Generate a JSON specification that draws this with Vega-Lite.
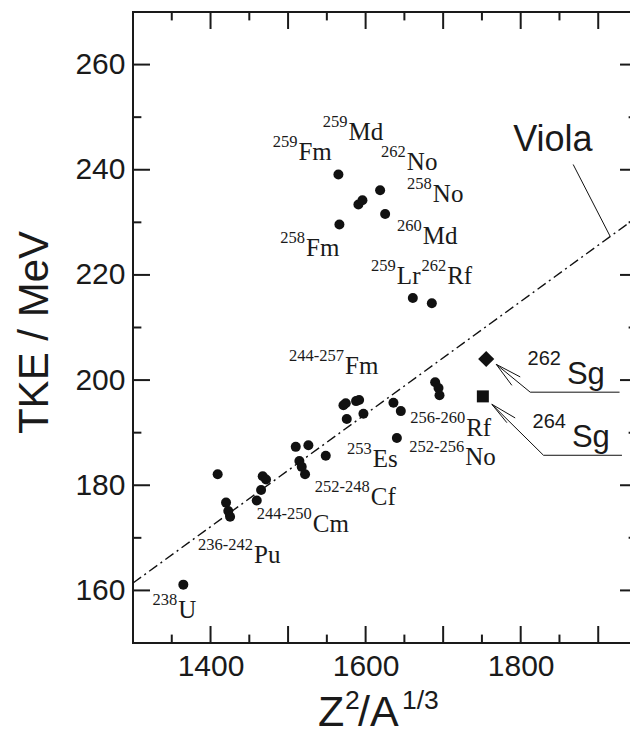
{
  "$schema": "https://vega.github.io/schema/vega-lite/v6.json",
  "width": 504,
  "height": 631,
  "autosize": {"type": "none"},
  "padding": {"left": 133, "top": 12, "right": -7, "bottom": 86},
  "background": "white",
  "config": {
    "view": {"stroke": "#1a1a1a", "strokeWidth": 2},
    "axis": {
      "grid": false,
      "domain": false,
      "ticks": false,
      "tickSize": 0,
      "labelColor": "#1a1a1a",
      "labelFont": "Liberation Sans",
      "labelFontSize": 30,
      "titleFont": "Liberation Sans",
      "titleColor": "#1a1a1a",
      "titleFontWeight": "normal",
      "labelFlush": false,
      "labelOverlap": false
    }
  },
  "datasets": {
    "points": [
      {"x": 1564.9, "y": 239.1}, {"x": 1590.7, "y": 233.4}, {"x": 1595.9, "y": 234.2},
      {"x": 1618.7, "y": 236.1}, {"x": 1625.2, "y": 231.6}, {"x": 1566.2, "y": 229.6},
      {"x": 1660.9, "y": 215.6}, {"x": 1685.4, "y": 214.6},
      {"x": 1364.9, "y": 161.1}, {"x": 1409.2, "y": 182.1}, {"x": 1420.0, "y": 176.7},
      {"x": 1422.9, "y": 175.1}, {"x": 1425.2, "y": 174.0}, {"x": 1459.6, "y": 177.1},
      {"x": 1465.2, "y": 179.1}, {"x": 1467.3, "y": 181.7}, {"x": 1471.6, "y": 181.1},
      {"x": 1509.9, "y": 187.3}, {"x": 1526.2, "y": 187.6}, {"x": 1514.6, "y": 184.6},
      {"x": 1517.6, "y": 183.5}, {"x": 1521.9, "y": 182.1}, {"x": 1548.6, "y": 185.6},
      {"x": 1571.4, "y": 195.2}, {"x": 1574.4, "y": 195.6}, {"x": 1575.7, "y": 192.6},
      {"x": 1587.7, "y": 196.0}, {"x": 1591.6, "y": 196.2}, {"x": 1597.2, "y": 193.6},
      {"x": 1635.9, "y": 195.7}, {"x": 1645.4, "y": 194.1}, {"x": 1640.3, "y": 189.0},
      {"x": 1689.7, "y": 199.6}, {"x": 1694.0, "y": 198.5}, {"x": 1695.3, "y": 197.1}
    ],
    "sg": [
      {"iso": "262Sg", "x": 1755.5, "y": 204.0},
      {"iso": "264Sg", "x": 1751.2, "y": 196.9}
    ],
    "viola": [
      {"x": 1300, "y": 161.4},
      {"x": 1950, "y": 231.0}
    ],
    "leaders": [
      {"x": 1867.7, "y": 241.0, "x2": 1915.5, "y2": 227.3},
      {"x": 1768.4, "y": 203.0, "x2": 1812.3, "y2": 197.7},
      {"x": 1812.3, "y": 197.7, "x2": 1927.5, "y2": 197.7},
      {"x": 1768.4, "y": 203.0, "x2": 1799.4, "y2": 200.6},
      {"x": 1768.4, "y": 203.0, "x2": 1788.6, "y2": 199.0},
      {"x": 1762.8, "y": 195.4, "x2": 1829.4, "y2": 185.7},
      {"x": 1829.4, "y": 185.7, "x2": 1930.6, "y2": 185.7},
      {"x": 1762.8, "y": 195.4, "x2": 1792.9, "y2": 192.8},
      {"x": 1762.8, "y": 195.4, "x2": 1782.2, "y2": 191.9}
    ],
    "xticks": [
      {"v": 1350, "kind": "minor"}, {"v": 1400, "kind": "major"}, {"v": 1450, "kind": "minor"},
      {"v": 1500, "kind": "major"}, {"v": 1550, "kind": "minor"}, {"v": 1600, "kind": "major"},
      {"v": 1650, "kind": "minor"}, {"v": 1700, "kind": "major"}, {"v": 1750, "kind": "minor"},
      {"v": 1800, "kind": "major"}, {"v": 1850, "kind": "minor"}, {"v": 1900, "kind": "major"}
    ],
    "yticks": [
      {"v": 160, "kind": "major"}, {"v": 170, "kind": "minor"}, {"v": 180, "kind": "major"},
      {"v": 190, "kind": "minor"}, {"v": 200, "kind": "major"}, {"v": 210, "kind": "minor"},
      {"v": 220, "kind": "major"}, {"v": 230, "kind": "minor"}, {"v": 240, "kind": "major"},
      {"v": 250, "kind": "minor"}, {"v": 260, "kind": "major"}
    ],
    "isotopes": [
      {"mass": "259", "el": "Fm", "x": 1513.3, "y": 241.9},
      {"mass": "259", "el": "Md", "x": 1577.8, "y": 245.6},
      {"mass": "262", "el": "No", "x": 1653.2, "y": 239.9},
      {"mass": "258", "el": "No", "x": 1686.7, "y": 233.8},
      {"mass": "260", "el": "Md", "x": 1673.8, "y": 225.8},
      {"mass": "258", "el": "Fm", "x": 1523.2, "y": 223.6},
      {"mass": "259", "el": "Lr", "x": 1640.3, "y": 218.2},
      {"mass": "262", "el": "Rf", "x": 1705.2, "y": 218.2},
      {"mass": "244-257", "el": "Fm", "x": 1573.5, "y": 201.1},
      {"mass": "256-260", "el": "Rf", "x": 1729.7, "y": 189.3},
      {"mass": "253", "el": "Es", "x": 1609.3, "y": 183.5},
      {"mass": "252-256", "el": "No", "x": 1728.4, "y": 183.8},
      {"mass": "252-248", "el": "Cf", "x": 1606.7, "y": 176.2},
      {"mass": "244-250", "el": "Cm", "x": 1531.9, "y": 171.1},
      {"mass": "236-242", "el": "Pu", "x": 1456.1, "y": 165.3},
      {"mass": "238", "el": "U", "x": 1358.5, "y": 154.8}
    ],
    "sglabels": [
      {"mass": "262", "el": "Sg", "x": 1859.6, "y": 199.2},
      {"mass": "264", "el": "Sg", "x": 1866.1, "y": 187.2}
    ],
    "violalabel": [
      {"t": "Viola", "x": 1790.3, "y": 243.5}
    ],
    "xtitle_big": [
      {"t": "Z", "x": 1538.7, "y": 134.2},
      {"t": "/A", "x": 1590.3, "y": 134.2}
    ],
    "xtitle_small": [
      {"t": "2", "x": 1573.5, "y": 137.5},
      {"t": "1/3", "x": 1646.9, "y": 137.5}
    ]
  },
  "resolve": {"axis": {"x": "independent", "y": "independent"}},
  "layer": [
    {
      "data": {"name": "xticks"},
      "transform": [{"filter": "datum.kind === 'major'"}],
      "mark": {"type": "rule", "color": "#1a1a1a", "strokeWidth": 2},
      "encoding": {
        "x": {
          "field": "v", "type": "quantitative",
          "scale": {"domain": [1300, 1950], "nice": false, "zero": false},
          "axis": {
            "orient": "bottom",
            "values": [1400, 1600, 1800],
            "format": "d",
            "labelFontSize": 30,
            "labelPadding": 8,
            "title": null
          }
        },
        "y": {
          "datum": 150, "type": "quantitative",
          "scale": {"domain": [150, 270], "nice": false, "zero": false},
          "axis": {
            "orient": "left",
            "values": [160, 180, 200, 220, 240, 260],
            "format": "d",
            "labelFontSize": 30,
            "labelPadding": 8,
            "title": "TKE / MeV",
            "titleFontSize": 42,
            "titleX": -86,
            "titleY": 320,
            "titleBaseline": "alphabetic",
            "titleAlign": "center",
            "titleAngle": -90
          }
        },
        "y2": {"datum": 153.23}
      }
    },
    {
      "data": {"name": "xticks"},
      "transform": [{"filter": "datum.kind === 'minor'"}],
      "mark": {"type": "rule", "color": "#1a1a1a", "strokeWidth": 2},
      "encoding": {
        "x": {"field": "v", "type": "quantitative", "scale": {"domain": [1300, 1950], "nice": false, "zero": false}, "axis": null},
        "y": {"datum": 150, "type": "quantitative", "scale": {"domain": [150, 270], "nice": false, "zero": false}, "axis": null},
        "y2": {"datum": 151.6}
      }
    },
    {
      "data": {"name": "xticks"},
      "transform": [{"filter": "datum.kind === 'major'"}],
      "mark": {"type": "rule", "color": "#1a1a1a", "strokeWidth": 2},
      "encoding": {
        "x": {"field": "v", "type": "quantitative", "scale": {"domain": [1300, 1950], "nice": false, "zero": false}, "axis": null},
        "y": {"datum": 270, "type": "quantitative", "scale": {"domain": [150, 270], "nice": false, "zero": false}, "axis": null},
        "y2": {"datum": 266.77}
      }
    },
    {
      "data": {"name": "xticks"},
      "transform": [{"filter": "datum.kind === 'minor'"}],
      "mark": {"type": "rule", "color": "#1a1a1a", "strokeWidth": 2},
      "encoding": {
        "x": {"field": "v", "type": "quantitative", "scale": {"domain": [1300, 1950], "nice": false, "zero": false}, "axis": null},
        "y": {"datum": 270, "type": "quantitative", "scale": {"domain": [150, 270], "nice": false, "zero": false}, "axis": null},
        "y2": {"datum": 268.4}
      }
    },
    {
      "data": {"name": "yticks"},
      "transform": [{"filter": "datum.kind === 'major'"}],
      "mark": {"type": "rule", "color": "#1a1a1a", "strokeWidth": 2},
      "encoding": {
        "x": {"datum": 1300, "type": "quantitative", "scale": {"domain": [1300, 1950], "nice": false, "zero": false}, "axis": null},
        "x2": {"datum": 1321.9},
        "y": {"field": "v", "type": "quantitative", "scale": {"domain": [150, 270], "nice": false, "zero": false}, "axis": null}
      }
    },
    {
      "data": {"name": "yticks"},
      "transform": [{"filter": "datum.kind === 'minor'"}],
      "mark": {"type": "rule", "color": "#1a1a1a", "strokeWidth": 2},
      "encoding": {
        "x": {"datum": 1300, "type": "quantitative", "scale": {"domain": [1300, 1950], "nice": false, "zero": false}, "axis": null},
        "x2": {"datum": 1310.8},
        "y": {"field": "v", "type": "quantitative", "scale": {"domain": [150, 270], "nice": false, "zero": false}, "axis": null}
      }
    },
    {
      "data": {"name": "yticks"},
      "transform": [{"filter": "datum.kind === 'major'"}],
      "mark": {"type": "rule", "color": "#1a1a1a", "strokeWidth": 2},
      "encoding": {
        "x": {"datum": 1950, "type": "quantitative", "scale": {"domain": [1300, 1950], "nice": false, "zero": false}, "axis": null},
        "x2": {"datum": 1928.1},
        "y": {"field": "v", "type": "quantitative", "scale": {"domain": [150, 270], "nice": false, "zero": false}, "axis": null}
      }
    },
    {
      "data": {"name": "yticks"},
      "transform": [{"filter": "datum.kind === 'minor'"}],
      "mark": {"type": "rule", "color": "#1a1a1a", "strokeWidth": 2},
      "encoding": {
        "x": {"datum": 1950, "type": "quantitative", "scale": {"domain": [1300, 1950], "nice": false, "zero": false}, "axis": null},
        "x2": {"datum": 1939.2},
        "y": {"field": "v", "type": "quantitative", "scale": {"domain": [150, 270], "nice": false, "zero": false}, "axis": null}
      }
    },
    {
      "data": {"name": "points"},
      "mark": {"type": "point", "shape": "circle", "filled": true, "size": 100, "color": "#111111", "opacity": 1},
      "encoding": {
        "x": {"field": "x", "type": "quantitative", "scale": {"domain": [1300, 1950], "nice": false, "zero": false}, "axis": null},
        "y": {"field": "y", "type": "quantitative", "scale": {"domain": [150, 270], "nice": false, "zero": false}, "axis": null}
      }
    },
    {
      "data": {"name": "viola"},
      "mark": {"type": "line", "color": "#111111", "strokeWidth": 1.4, "strokeDash": [10, 4, 2, 4], "clip": true},
      "encoding": {
        "x": {"field": "x", "type": "quantitative", "scale": {"domain": [1300, 1950], "nice": false, "zero": false}, "axis": null},
        "y": {"field": "y", "type": "quantitative", "scale": {"domain": [150, 270], "nice": false, "zero": false}, "axis": null}
      }
    },
    {
      "data": {"name": "leaders"},
      "mark": {"type": "rule", "color": "#111111", "strokeWidth": 1},
      "encoding": {
        "x": {"field": "x", "type": "quantitative", "scale": {"domain": [1300, 1950], "nice": false, "zero": false}, "axis": null},
        "y": {"field": "y", "type": "quantitative", "scale": {"domain": [150, 270], "nice": false, "zero": false}, "axis": null},
        "x2": {"field": "x2"},
        "y2": {"field": "y2"}
      }
    },
    {
      "data": {"name": "sg"},
      "transform": [{"filter": "datum.iso === '262Sg'"}],
      "mark": {"type": "point", "shape": "diamond", "filled": true, "size": 260, "color": "#111111", "opacity": 1},
      "encoding": {
        "x": {"field": "x", "type": "quantitative", "scale": {"domain": [1300, 1950], "nice": false, "zero": false}, "axis": null},
        "y": {"field": "y", "type": "quantitative", "scale": {"domain": [150, 270], "nice": false, "zero": false}, "axis": null}
      }
    },
    {
      "data": {"name": "sg"},
      "transform": [{"filter": "datum.iso === '264Sg'"}],
      "mark": {"type": "point", "shape": "square", "filled": true, "size": 144, "color": "#111111", "opacity": 1},
      "encoding": {
        "x": {"field": "x", "type": "quantitative", "scale": {"domain": [1300, 1950], "nice": false, "zero": false}, "axis": null},
        "y": {"field": "y", "type": "quantitative", "scale": {"domain": [150, 270], "nice": false, "zero": false}, "axis": null}
      }
    },
    {
      "data": {"name": "isotopes"},
      "mark": {"type": "text", "font": "Liberation Serif", "fontSize": 25, "align": "left", "baseline": "alphabetic", "color": "#1a1a1a"},
      "encoding": {
        "x": {"field": "x", "type": "quantitative", "scale": {"domain": [1300, 1950], "nice": false, "zero": false}, "axis": null},
        "y": {"field": "y", "type": "quantitative", "scale": {"domain": [150, 270], "nice": false, "zero": false}, "axis": null},
        "text": {"field": "el"}
      }
    },
    {
      "data": {"name": "isotopes"},
      "mark": {"type": "text", "font": "Liberation Serif", "fontSize": 16.5, "align": "right", "baseline": "alphabetic", "dx": -1, "dy": -13, "color": "#1a1a1a"},
      "encoding": {
        "x": {"field": "x", "type": "quantitative", "scale": {"domain": [1300, 1950], "nice": false, "zero": false}, "axis": null},
        "y": {"field": "y", "type": "quantitative", "scale": {"domain": [150, 270], "nice": false, "zero": false}, "axis": null},
        "text": {"field": "mass"}
      }
    },
    {
      "data": {"name": "sglabels"},
      "mark": {"type": "text", "font": "Liberation Sans", "fontSize": 31, "align": "left", "baseline": "alphabetic", "color": "#1a1a1a"},
      "encoding": {
        "x": {"field": "x", "type": "quantitative", "scale": {"domain": [1300, 1950], "nice": false, "zero": false}, "axis": null},
        "y": {"field": "y", "type": "quantitative", "scale": {"domain": [150, 270], "nice": false, "zero": false}, "axis": null},
        "text": {"field": "el"}
      }
    },
    {
      "data": {"name": "sglabels"},
      "mark": {"type": "text", "font": "Liberation Sans", "fontSize": 20, "align": "right", "baseline": "alphabetic", "dx": -6, "dy": -19, "color": "#1a1a1a"},
      "encoding": {
        "x": {"field": "x", "type": "quantitative", "scale": {"domain": [1300, 1950], "nice": false, "zero": false}, "axis": null},
        "y": {"field": "y", "type": "quantitative", "scale": {"domain": [150, 270], "nice": false, "zero": false}, "axis": null},
        "text": {"field": "mass"}
      }
    },
    {
      "data": {"name": "violalabel"},
      "mark": {"type": "text", "font": "Liberation Sans", "fontSize": 36, "align": "left", "baseline": "alphabetic", "color": "#1a1a1a"},
      "encoding": {
        "x": {"field": "x", "type": "quantitative", "scale": {"domain": [1300, 1950], "nice": false, "zero": false}, "axis": null},
        "y": {"field": "y", "type": "quantitative", "scale": {"domain": [150, 270], "nice": false, "zero": false}, "axis": null},
        "text": {"field": "t"}
      }
    },
    {
      "data": {"name": "xtitle_big"},
      "mark": {"type": "text", "font": "Liberation Sans", "fontSize": 43, "align": "left", "baseline": "alphabetic", "color": "#1a1a1a"},
      "encoding": {
        "x": {"field": "x", "type": "quantitative", "scale": {"domain": [1300, 1950], "nice": false, "zero": false}, "axis": null},
        "y": {"field": "y", "type": "quantitative", "scale": {"domain": [150, 270], "nice": false, "zero": false}, "axis": null},
        "text": {"field": "t"}
      }
    },
    {
      "data": {"name": "xtitle_small"},
      "mark": {"type": "text", "font": "Liberation Sans", "fontSize": 26.5, "align": "left", "baseline": "alphabetic", "color": "#1a1a1a"},
      "encoding": {
        "x": {"field": "x", "type": "quantitative", "scale": {"domain": [1300, 1950], "nice": false, "zero": false}, "axis": null},
        "y": {"field": "y", "type": "quantitative", "scale": {"domain": [150, 270], "nice": false, "zero": false}, "axis": null},
        "text": {"field": "t"}
      }
    }
  ]
}
